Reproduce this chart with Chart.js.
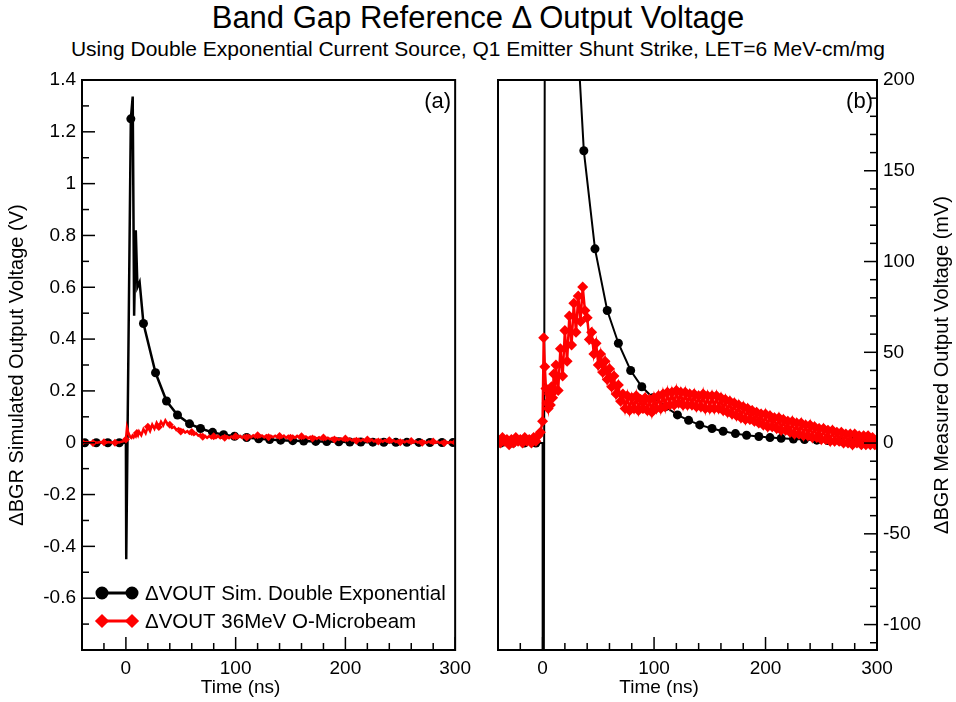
<!DOCTYPE html>
<html lang="en">
<head>
<meta charset="UTF-8">
<title>Band Gap Reference Δ Output Voltage</title>
<script src="https://cdn.jsdelivr.net/npm/chart.js"></script>
<style>
  body { margin: 0; width: 956px; height: 702px; background: #fff; position: relative; overflow: hidden;
         font-family: "Liberation Sans", Arial, sans-serif; color: #000; }
  #title { position: absolute; left: 0; top: 0; width: 956px; text-align: center; font-size: 31px; }
  #subtitle { position: absolute; left: 0; top: 37px; width: 956px; text-align: center; font-size: 21px; }
  canvas { position: absolute; top: 60px; }
  #leftChart { left: 0; }
  #rightChart { left: 478px; }
</style>
</head>
<body>
<div id="title">Band Gap Reference Δ Output Voltage</div>
<div id="subtitle">Using Double Exponential Current Source, Q1 Emitter Shunt Strike, LET=6 MeV-cm/mg</div>
<canvas id="leftChart" width="478" height="642"></canvas>
<canvas id="rightChart" width="478" height="642"></canvas>
<script>
// simulated output (mV) at the marked points
const simT  = [-37.5, -27, -16.5, -6, 4.5, 16, 27, 37, 47, 58, 68, 79, 89, 99, 110, 121, 131, 141, 152,
               162, 173, 183, 194, 204, 214, 225, 235, 246, 256, 267, 277, 288, 298];
const simMV = [0, 0, 0, 0, 1250, 460, 270, 161, 107, 73, 55, 40, 31, 25, 20, 15.5, 12.5, 10, 8,
               6.5, 5.2, 4.3, 3.6, 3.0, 2.6, 2.2, 1.9, 1.6, 1.4, 1.2, 1.0, 0.9, 0.8];
// simulated transient points without markers (mV)
const spikeT  = [-40, 0, 0.3, 6.2, 7.5, 9, 10.5, 12.5];
const spikeMV = [0, 0, -450, 1336, 490, 820, 600, 620];

// measured microbeam response (mV)
const measT = [
  -40, -38, -36, -34, -32, -30, -28, -26, -24, -22, -20, -18, -16, -14, -12, -10, -8, -6, -4, -2,
  0, 1, 2, 3, 4, 5, 6, 7, 8, 9, 10, 11,
  12, 14, 16, 18, 20, 22, 24, 26, 28, 30,
  32, 34, 36, 38, 40, 42, 44, 46, 48, 50,
  52, 54, 56, 58, 60, 62, 64, 66, 68, 70,
  72, 74, 76, 78, 80, 82, 84, 86, 88, 90,
  92, 94, 96, 98, 100, 102, 104, 106, 108, 110,
  112, 114, 116, 118, 120, 122, 124, 126, 128, 130,
  132, 134, 136, 138, 140, 142, 144, 146, 148, 150,
  152, 154, 156, 158, 160, 162, 164, 166, 168, 170,
  172, 174, 176, 178, 180, 182, 184, 186, 188, 190,
  192, 194, 196, 198, 200, 202, 204, 206, 208, 210,
  212, 214, 216, 218, 220, 222, 224, 226, 228, 230,
  232, 234, 236, 238, 240, 242, 244, 246, 248, 250,
  252, 254, 256, 258, 260, 262, 264, 266, 268, 270,
  272, 274, 276, 278, 280, 282, 284, 286, 288, 290,
  292, 294, 296, 298, 300
];
const measMV = [
  2, 0, 3, 1, 2, -1, 2, 0, 3, 1, 2, 0, 3, 1, 2, 0, 3, 1, 4, 6,
  12, 58, 42, 30, 22, 19, 27, 21, 31, 25, 38, 29,
  43, 29, 52, 37, 62, 45, 70, 54, 77, 61,
  81, 67, 86, 73, 69, 57, 61, 49, 55, 43,
  49, 39, 45, 35, 41, 31, 37, 27, 32, 23,
  27, 19, 26, 18, 25, 19, 26, 18, 24, 19,
  25, 18, 24, 17, 25, 19, 26, 19, 27, 20,
  28, 21, 28, 21, 29, 22, 28, 21, 28, 21,
  27, 21, 27, 20, 26, 20, 27, 19, 26, 19,
  26, 19, 26, 19, 25, 18, 24, 17, 23, 16,
  22, 15, 21, 14, 20, 13, 19, 13, 18, 12,
  17, 11, 16, 10, 16, 9, 15, 9, 14, 8,
  14, 7, 13, 7, 12, 6, 12, 5, 11, 5,
  11, 4, 10, 4, 10, 3, 9, 3, 8, 2,
  8, 2, 7, 1, 7, 1, 6, 1, 6, 0,
  5, 0, 5, -1, 5, 0, 4, -1, 4, -1,
  4, -1, 3, -1, 2
];

// axis ticks
const xTicks = [-20, 0, 20, 40, 60, 80, 100, 120, 140, 160, 180, 200, 220, 240, 260, 280, 300];
const xLabels = [0, 100, 200, 300];
const leftYTicks = [-0.7, -0.6, -0.5, -0.4, -0.3, -0.2, -0.1, 0, 0.1, 0.2, 0.3, 0.4, 0.5, 0.6, 0.7,
                    0.8, 0.9, 1, 1.1, 1.2, 1.3, 1.4];
const leftYLabels = [-0.6, -0.4, -0.2, 0, 0.2, 0.4, 0.6, 0.8, 1, 1.2, 1.4];
const rightYTicks = [-110, -100, -90, -80, -70, -60, -50, -40, -30, -20, -10, 0, 10, 20, 30, 40, 50,
                     60, 70, 80, 90, 100, 110, 120, 130, 140, 150, 160, 170, 180, 190, 200];
const rightYLabels = [-100, -50, 0, 50, 100, 150, 200];

const FONT = "'Liberation Sans', Arial, sans-serif";
Chart.defaults.font.family = FONT;
Chart.defaults.font.size = 19;
Chart.defaults.color = '#000';

function simPoints(scale) {
  const pts = simT.map((t, i) => ({ x: t, y: simMV[i] * scale, m: true }))
    .concat(spikeT.map((t, i) => ({ x: t, y: spikeMV[i] * scale, m: false })));
  return pts.sort((a, b) => a.x - b.x);
}
function measPoints(scale) {
  return measT.map((t, i) => ({ x: t, y: measMV[i] * scale }));
}

// box frame + inward tick marks
const innerTicks = {
  id: 'innerTicks',
  afterDatasetsDraw(chart, args, opts) {
    const { ctx, chartArea: a } = chart;
    ctx.save();
    ctx.strokeStyle = '#000';
    ctx.lineWidth = 1.5;
    ['x', 'y'].forEach(id => {
      const s = chart.scales[id];
      const major = id === 'x' ? opts.xMajor : opts.yMajor;
      s.ticks.forEach(t => {
        const len = major.includes(t.value) ? 13 : 7;
        const p = s.getPixelForValue(t.value);
        ctx.beginPath();
        if (id === 'x') { ctx.moveTo(p, a.bottom); ctx.lineTo(p, a.bottom - len); }
        else if (s.position === 'left') { ctx.moveTo(a.left, p); ctx.lineTo(a.left + len, p); }
        else { ctx.moveTo(a.right, p); ctx.lineTo(a.right - len, p); }
        ctx.stroke();
      });
    });
    ctx.lineWidth = 2;
    ctx.strokeRect(a.left, a.top, a.right - a.left, a.bottom - a.top);
    ctx.restore();
  }
};

// panel tag, axis titles and (optional) legend
const decorations = {
  id: 'decorations',
  afterDraw(chart, args, opts) {
    const { ctx, chartArea: a } = chart;
    ctx.save();
    ctx.fillStyle = '#000';
    ctx.font = '22px ' + FONT;
    ctx.textAlign = 'right';
    ctx.textBaseline = 'alphabetic';
    ctx.fillText(opts.tag, a.right - 4, a.top + 28);

    // x title sits a little left of the panel centre, as in the original
    ctx.font = '19px ' + FONT;
    ctx.textAlign = 'center';
    ctx.textBaseline = 'middle';
    ctx.fillText(opts.xTitle, a.left + 0.425 * (a.right - a.left), chart.height - 14);

    ctx.save();
    ctx.translate(opts.titleX, (a.top + a.bottom) / 2);
    ctx.rotate(-Math.PI / 2);
    ctx.font = '20px ' + FONT;
    ctx.fillText(opts.yTitle, 0, 0);
    ctx.restore();

    if (opts.legend) {
      opts.legend.forEach((idx, i) => {
        const ds = chart.data.datasets[idx];
        const y = a.bottom - 57 + i * 28;
        const x0 = a.left + 20, x1 = a.left + 50;
        ctx.strokeStyle = ds.borderColor;
        ctx.fillStyle = ds.borderColor;
        ctx.lineWidth = 3;
        ctx.beginPath(); ctx.moveTo(x0, y); ctx.lineTo(x1, y); ctx.stroke();
        [x0, x1].forEach(x => {
          Chart.helpers.drawPoint(ctx, { pointStyle: ds.pointStyle, radius: 5, rotation: 0, borderWidth: 1 }, x, y);
        });
        ctx.fillStyle = '#000';
        ctx.font = '20.5px ' + FONT;
        ctx.textAlign = 'left';
        ctx.textBaseline = 'middle';
        ctx.fillText(ds.label, a.left + 63, y + 1);
      });
    }
    ctx.restore();
  }
};

function xScale() {
  return {
    type: 'linear', min: -40, max: 300,
    afterBuildTicks: s => { s.ticks = xTicks.map(v => ({ value: v })); },
    ticks: { callback: v => xLabels.includes(v) ? String(v) : '', padding: 7, maxRotation: 0, autoSkip: false },
    grid: { display: false, drawTicks: false },
    border: { display: false },
    afterFit: s => { s.height = 52; }
  };
}

function yScale(min, max, ticks, labels, pos, width) {
  return {
    type: 'linear', min: min, max: max, position: pos,
    afterBuildTicks: s => { s.ticks = ticks.map(v => ({ value: v })); },
    ticks: { callback: v => labels.includes(v) ? String(v) : '', padding: 6, autoSkip: false },
    grid: { display: false, drawTicks: false },
    border: { display: false },
    afterFit: s => { s.width = width; }
  };
}

new Chart(document.getElementById('leftChart'), {
  type: 'line',
  data: {
    datasets: [
      {
        label: 'ΔVOUT 36MeV O-Microbeam',
        data: measPoints(0.001),
        borderColor: '#ff0000', backgroundColor: '#ff0000', borderWidth: 2.5,
        pointStyle: 'rectRot', pointBorderWidth: 0,
        pointRadius: ctx => (ctx.raw && ctx.raw.x % 10 === 0) ? 4 : 0
      },
      {
        label: 'ΔVOUT Sim. Double Exponential',
        data: simPoints(0.001),
        borderColor: '#000000', backgroundColor: '#000000', borderWidth: 2.5,
        pointStyle: 'circle', pointBorderWidth: 0,
        pointRadius: ctx => (ctx.raw && ctx.raw.m) ? 4.5 : 0
      }
    ]
  },
  options: {
    responsive: false, animation: false,
    layout: { padding: { top: 20, right: 16, left: 0, bottom: 0 } },
    scales: {
      x: xScale(),
      y: yScale(-0.8, 1.4, leftYTicks, leftYLabels, 'left', 82)
    },
    plugins: {
      legend: { display: false }, tooltip: { enabled: false },
      innerTicks: { xMajor: xLabels, yMajor: leftYLabels },
      decorations: { tag: '(a)', xTitle: 'Time (ns)', titleX: 17,
                     yTitle: 'ΔBGR Simulated Output Voltage (V)', legend: [1, 0] }
    }
  },
  plugins: [innerTicks, decorations]
});

new Chart(document.getElementById('rightChart'), {
  type: 'line',
  data: {
    datasets: [
      {
        label: 'ΔVOUT 36MeV O-Microbeam',
        data: measPoints(1),
        borderColor: '#ff0000', backgroundColor: '#ff0000', borderWidth: 2.5,
        pointStyle: 'rectRot', pointBorderWidth: 0, pointRadius: 5.5
      },
      {
        label: 'ΔVOUT Sim. Double Exponential',
        data: simPoints(1),
        borderColor: '#000000', backgroundColor: '#000000', borderWidth: 2,
        pointStyle: 'circle', pointBorderWidth: 0,
        pointRadius: ctx => (ctx.raw && ctx.raw.m) ? 4.5 : 0
      }
    ]
  },
  options: {
    responsive: false, animation: false,
    layout: { padding: { top: 20, right: 0, left: 20, bottom: 0 } },
    scales: {
      x: xScale(),
      y: yScale(-114, 200, rightYTicks, rightYLabels, 'right', 79)
    },
    plugins: {
      legend: { display: false }, tooltip: { enabled: false },
      innerTicks: { xMajor: xLabels, yMajor: rightYLabels },
      decorations: { tag: '(b)', xTitle: 'Time (ns)', titleX: 464,
                     yTitle: 'ΔBGR Measured Output Voltage (mV)' }
    }
  },
  plugins: [innerTicks, decorations]
});
</script>
</body>
</html>
